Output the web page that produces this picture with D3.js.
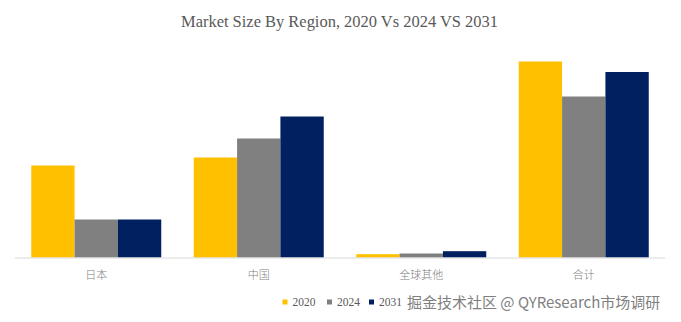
<!DOCTYPE html>
<html><head><meta charset="utf-8">
<script src="https://cdn.jsdelivr.net/npm/d3@7"></script>
<style>body{margin:0;background:#fff}svg{display:block}</style>
</head><body>
<svg id="chart" width="681" height="322"></svg>
<script>
const categories = ["日本", "中国", "全球其他", "合计"];
const seriesNames = ["2020", "2024", "2031"];
const values2020 = [92, 100, 3.3, 196];
const values2024 = [38, 119, 4, 161];
const values2031 = [38, 141, 6.3, 185.5];
const colors = ["#FFC000", "#808080", "#002060"];
const title = "Market Size By Region, 2020 Vs 2024 VS 2031";
const watermark = "掘金技术社区 @ QYResearch市场调研";

const series = [values2020, values2024, values2031];
const svg = d3.select("#chart");
const base = 257.5;
const x0 = d3.scaleBand().domain(categories).range([15, 665]).paddingInner(0.2).paddingOuter(0.1);
const x1 = d3.scaleBand().domain(seriesNames).range([0, x0.bandwidth()]);
const y = d3.scaleLinear().domain([0, 200]).range([base, base - 200]);

svg.append("text").attr("x", 181).attr("y", 26.5)
  .attr("font-family", "'Palatino Linotype','Book Antiqua',Palatino,'Liberation Serif',serif")
  .attr("font-size", 17.5).attr("fill", "#595959")
  .attr("textLength", 317).attr("lengthAdjust", "spacingAndGlyphs").text(title);

const g = svg.append("g");
categories.forEach((c, i) => {
  seriesNames.forEach((s, j) => {
    g.append("rect")
      .attr("x", x0(c) + x1(s)).attr("width", x1.bandwidth())
      .attr("y", y(series[j][i])).attr("height", base - y(series[j][i]))
      .attr("fill", colors[j]);
  });
});

const axis = svg.append("g").attr("transform", `translate(0,${base})`)
  .call(d3.axisBottom(x0).tickSize(0).tickPadding(14));
axis.select(".domain").attr("stroke", "#d9d9d9").attr("stroke-width", 1).attr("d", "M15,0.5H665");
axis.selectAll("text").attr("font-family", "'Noto Sans CJK SC',sans-serif")
  .attr("font-size", 11).attr("fill", "#808080").attr("font-weight", 300);

const leg = svg.append("g");
const legX = [282.5, 327, 369];
seriesNames.forEach((s, j) => {
  leg.append("rect").attr("x", legX[j]).attr("y", 299.5).attr("width", 5).attr("height", 5).attr("fill", colors[j]);
  leg.append("text").attr("x", legX[j] + 10).attr("y", 305.5)
    .attr("font-family", "'Palatino Linotype','Book Antiqua','Liberation Serif',serif")
    .attr("font-size", 11.5).attr("fill", "#595959").text(s);
});
svg.append("text").attr("x", 407).attr("y", 307.5)
  .attr("font-family", "'Noto Sans CJK SC',sans-serif").attr("font-size", 15)
  .attr("fill", "#7f7f7f").text(watermark);
</script>
</body></html>
